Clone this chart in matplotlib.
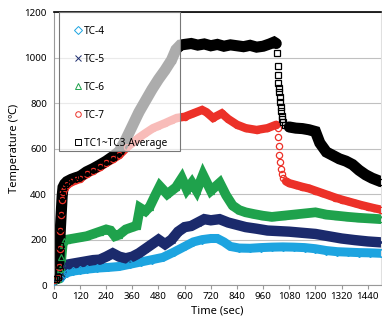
import numpy as np
import matplotlib
matplotlib.use("Agg")
import matplotlib.pyplot as plt
from matplotlib.lines import Line2D
from matplotlib.patches import Rectangle

plt.rcParams['font.family'] = ['Noto Sans', 'DejaVu Sans']

# TC1~TC3 average (black squares)
avg_t = [0, 10, 18, 22, 26, 30, 34, 38, 42, 50, 60, 80, 100, 120, 150, 180, 210, 240, 270, 300,
         330, 350, 390, 420, 450, 480, 510, 540, 560, 580, 600, 630, 660, 690, 720, 750, 780, 810,
         840, 870, 900, 930, 960, 990, 1010, 1020, 1024, 1026, 1028, 1030, 1032, 1034, 1036, 1038,
         1040, 1042, 1045, 1048, 1052, 1058, 1080, 1110, 1140, 1170, 1200, 1220, 1250, 1280, 1310,
         1340, 1370, 1400, 1430, 1460, 1500]
avg_v = [25, 28, 35, 90, 170, 250, 320, 390, 430, 445, 455, 465, 472, 478, 498, 512, 528, 545, 565, 588,
         640, 680, 760, 810, 860, 905, 945, 990, 1035, 1055, 1058, 1062, 1055, 1060, 1052, 1058, 1050, 1056,
         1052, 1048, 1054, 1046, 1050, 1060, 1068, 1062, 1020, 963, 923, 888, 866, 848, 826, 805,
         785, 765, 745, 730, 715, 702, 695, 690, 688, 683, 675, 625, 585, 570, 555,
         545, 530, 505, 485, 470, 455]

# TC-7 (red circles)
tc7_t = [0, 18, 22, 26, 30, 34, 38, 42, 50, 60, 80, 100, 120, 150, 180, 210, 240, 270, 300, 335,
         360, 390, 420, 455, 480, 510, 540, 564, 600, 640, 680, 700, 730, 770, 800, 840, 880, 930,
         980, 1020, 1026, 1029, 1032, 1035, 1038, 1042, 1046, 1052, 1065, 1080, 1110, 1140, 1170,
         1200, 1230, 1260, 1290, 1320, 1350, 1380, 1410, 1440, 1470, 1500]
tc7_v = [22, 30, 80, 160, 240, 310, 375, 410, 428, 440, 452, 460, 468, 488, 503, 518, 537, 553, 572, 605,
         625, 648, 668, 690, 700, 712, 725, 735, 740, 755, 770, 760, 735, 755, 730, 705, 690, 682,
         690, 705, 690, 650, 610, 570, 540, 510, 490, 472, 456, 448, 440, 432, 425,
         415, 405, 395, 385, 376, 368, 360, 352, 345, 338, 332]

# TC-6 (green triangles)
tc6_t = [0, 20, 30, 35, 40, 45, 60, 90, 120, 150, 180, 210, 240, 260, 280, 300, 330, 360, 380, 395,
         420, 440, 465, 486, 520, 560, 587, 610, 633, 655, 684, 720, 761, 790, 820, 850,
         880, 920, 960, 1000, 1050, 1100, 1150, 1200, 1250, 1300, 1350, 1400, 1450, 1500]
tc6_v = [22, 28, 70, 125, 175, 195, 200, 205, 210, 215, 225, 235, 245, 240, 215, 222, 245, 255, 262, 340,
         325, 345, 395, 435, 400, 430, 470, 420, 450, 415, 485, 415, 450, 395, 350, 330,
         320, 312, 305, 300, 305, 310, 315, 320, 310, 305, 300, 296, 293, 290]

# TC-5 (navy crosses)
tc5_t = [0, 30, 40, 60, 90, 120, 150, 180, 210, 240, 270, 300, 330, 360, 390, 420, 450, 480, 510, 540,
         570, 600, 630, 660, 690, 720, 760, 800, 840, 880, 930, 980, 1020, 1080, 1140, 1200, 1260,
         1320, 1380, 1440, 1500]
tc5_v = [22, 40, 85, 90, 95, 100, 105, 110, 112, 125, 140, 125, 118, 125, 140, 160, 180, 200, 180, 200,
         235, 255, 260, 275, 290, 285, 290, 275, 265, 255, 248, 240, 238, 235, 230, 225, 215,
         205, 198, 192, 188]

# TC-4 (light blue diamonds)
tc4_t = [0, 30, 40, 60, 90, 120, 150, 200, 250, 300, 350, 400, 450, 500, 550, 600, 640, 680, 720, 750,
         780, 810, 850, 900, 950, 1000, 1050, 1100, 1150, 1200, 1250, 1300, 1350, 1400, 1450, 1500]
tc4_v = [20, 30, 45, 55, 62, 66, 70, 75, 78, 82, 92, 102, 112, 122, 145, 170, 190, 200, 205, 205,
         190, 170, 163, 162, 165, 167, 168, 167, 165, 160, 152, 147, 145, 143, 142, 140]

labels = ['TC-4', 'TC-5', 'TC-6', 'TC-7', 'TC1~TC3 Average']
colors = ['#1da4e0', '#1b2a6c', '#1fa24c', '#ec3128', '#000000']
markers = ['D', 'x', '^', 'o', 's']

fig = plt.figure(figsize=(3.82, 3.27), dpi=100)
ax = fig.add_axes([0.141, 0.128, 0.856, 0.835])

series = [(tc4_t, tc4_v, 6.5, None), (tc5_t, tc5_v, 7.5, None), (tc6_t, tc6_v, 7, None),
          (tc7_t, tc7_v, 6, (1024, 1055)), (avg_t, avg_v, 8, (1022, 1060))]
for (t, v, lw, gap), c, m in zip(series, colors, markers):
    t = np.array(t, float)
    v = np.array(v, float)
    line_v = v
    if gap is not None:
        line_v = np.ma.masked_where((t > gap[0]) & (t < gap[1]), v)
    ax.plot(t, line_v, color=c, lw=lw, solid_capstyle='round', solid_joinstyle='miter', zorder=2)
    ax.plot(t, v, ls='none', marker=m, ms=4.5, mfc='none', mec=c, mew=0.9, zorder=3)

ax.set_xlim(0, 1500)
ax.set_ylim(0, 1200)
ax.set_xticks(np.arange(0, 1441, 120))
ax.set_yticks(np.arange(0, 1201, 200))
ax.tick_params(axis='x', labelsize=7, length=3, color='#999999', pad=2)
ax.tick_params(axis='y', labelsize=7, length=0, pad=5)
ax.yaxis.grid(True, color='#c0c0c0', lw=0.8)
ax.set_axisbelow(True)
for s in ['left', 'bottom']:
    ax.spines[s].set_color('#999999')
ax.spines['top'].set_color('black')
ax.spines['top'].set_linewidth(1.2)
ax.spines['right'].set_color('#e0e0e0')

ax.set_xlabel('Time (sec)', fontsize=8, labelpad=3)
ax.set_ylabel('Temperature (\u2103)', fontsize=8, labelpad=3)

# semi-transparent legend box
box = Rectangle((0.015, 0.49), 0.37, 0.51, transform=ax.transAxes, facecolor=(1, 1, 1, 0.68),
                edgecolor='#777777', lw=0.8, zorder=5)
ax.add_patch(box)
handles = [Line2D([], [], ls='none', marker=m, ms=4, mfc='none', mec=c, mew=0.7)
           for m, c in zip(markers, colors)]
leg = ax.legend(handles, labels, loc='upper left', bbox_to_anchor=(0.04, 0.98), frameon=False,
                fontsize=7.3, labelspacing=1.68, handlelength=0.6, handletextpad=0.3, borderpad=0.3)
leg.set_zorder(6)

fig.savefig('out.png', dpi=100)
